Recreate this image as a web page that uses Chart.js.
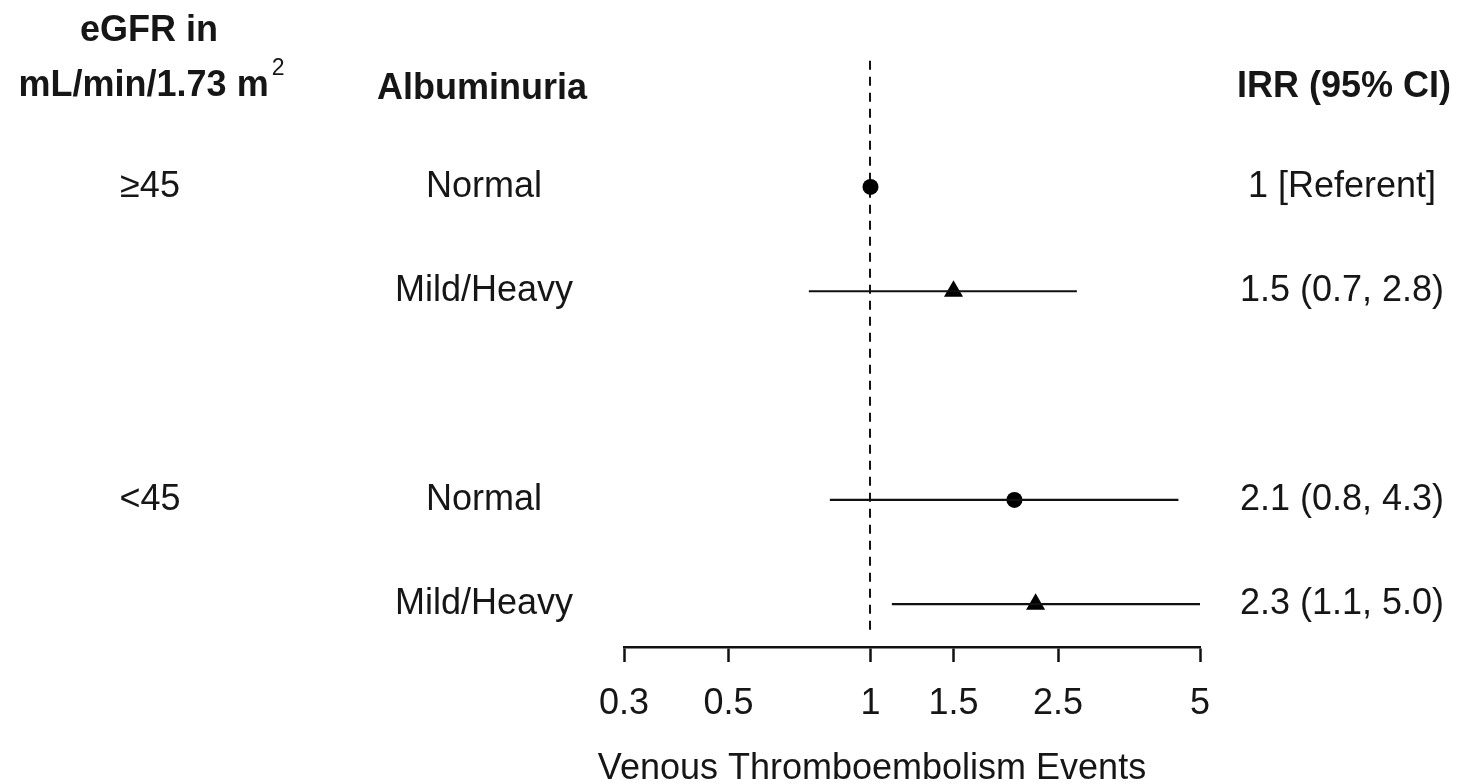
<!DOCTYPE html>
<html>
<head>
<meta charset="utf-8">
<script src="https://cdn.jsdelivr.net/npm/chart.js@4"></script>
<style>
  body { margin: 0; background: #fff; }
  #wrap { width: 1457px; height: 784px; }
</style>
</head>
<body>
<div id="wrap"><canvas id="forest" width="1457" height="784"></canvas></div>
<script>
// rows of the plot (row 3 is the empty gap between eGFR groups)
var rows = [1, 2, 4, 5];
var egfr = ['≥45', '', '<45', ''];
var albuminuria = ['Normal', 'Mild/Heavy', 'Normal', 'Mild/Heavy'];
var irr = [1, 1.5, 2.02, 2.24];
var lower = [null, 0.74, 0.82, 1.11];
var upper = [null, 2.74, 4.5, 5.0];
var irrText = ['1 [Referent]', '1.5 (0.7, 2.8)', '2.1 (0.8, 4.3)', '2.3 (1.1, 5.0)'];
var markers = ['circle', 'triangle', 'circle', 'triangle'];
var xTicks = [0.3, 0.5, 1, 1.5, 2.5, 5];
var xTitle = 'Venous Thromboembolism Events';

var FONT = '"Liberation Sans", Arial, sans-serif';
var INK = '#161616';

var datasets = [];
// CI whiskers
for (var i = 0; i < rows.length; i++) {
    if (lower[i] === null) continue;
    datasets.push({
        type: 'line',
        data: [{x: lower[i], y: rows[i]}, {x: upper[i], y: rows[i]}],
        borderColor: '#111',
        borderWidth: 2.2,
        pointRadius: 0,
        fill: false
    });
}
// point estimates
datasets.push({
    type: 'scatter',
    data: rows.map(function (r, i) { return {x: irr[i], y: r}; }),
    pointStyle: markers,
    pointRadius: markers.map(function (m) { return m === 'triangle' ? 11 : 8; }),
    backgroundColor: '#000',
    borderColor: '#000',
    borderWidth: 0
});

// dashed reference line at 1 + the text columns
var tablePlugin = {
    id: 'table',
    beforeDatasetsDraw: function (chart) {
        var c = chart.ctx, xs = chart.scales.x, ys = chart.scales.y;
        var x1 = Math.round(xs.getPixelForValue(1));
        c.save();
        c.strokeStyle = '#111';
        c.lineWidth = 2;
        c.setLineDash([9, 7]);
        c.beginPath();
        c.moveTo(x1, ys.getPixelForValue(-0.21));
        c.lineTo(x1, ys.getPixelForValue(5.25));
        c.stroke();
        c.restore();
    },
    afterDraw: function (chart) {
        var c = chart.ctx, ys = chart.scales.y;
        c.save();
        c.fillStyle = INK;
        c.textBaseline = 'middle';

        // headers
        c.font = 'bold 36px ' + FONT;
        c.textAlign = 'center';
        c.fillText('eGFR in', 149, ys.getPixelForValue(-0.49));
        var main = 'mL/min/1.73 m', w1 = c.measureText(main).width;
        c.font = '23px ' + FONT;
        var w2 = c.measureText('2').width;
        var start = 150 - (w1 + w2) / 2, hy = ys.getPixelForValue(0.03);
        c.textAlign = 'left';
        c.font = 'bold 36px ' + FONT;
        c.fillText(main, start, hy);
        c.font = '23px ' + FONT;
        c.fillText('2', start + w1 + 3, hy - 17);
        c.font = 'bold 36px ' + FONT;
        c.textAlign = 'center';
        c.fillText('Albuminuria', 482, ys.getPixelForValue(0.06));
        c.textAlign = 'right';
        c.fillText('IRR (95% CI)', 1451, ys.getPixelForValue(0.04));

        // body rows
        c.font = '36px ' + FONT;
        c.textAlign = 'center';
        for (var i = 0; i < rows.length; i++) {
            var y = ys.getPixelForValue(rows[i]);
            if (egfr[i]) c.fillText(egfr[i], 150, y);
            c.fillText(albuminuria[i], 484, y);
            c.fillText(irrText[i], 1342, y);
        }

        // axis title, centred under the reference line like the original
        c.fillText(xTitle, 872, 769);
        c.restore();
    }
};

new Chart(document.getElementById('forest').getContext('2d'), {
    data: {datasets: datasets},
    options: {
        responsive: false,
        animation: false,
        layout: {padding: {left: 624, right: 257, top: 7, bottom: 0}},
        plugins: {legend: {display: false}, tooltip: {enabled: false}},
        scales: {
            x: {
                type: 'logarithmic',
                position: 'bottom',
                min: 0.3,
                max: 5,
                afterBuildTicks: function (scale) {
                    scale.ticks = xTicks.map(function (v) { return {value: v}; });
                },
                afterFit: function (scale) { scale.height = 137; },
                border: {display: true, color: '#111', width: 2.5},
                grid: {drawOnChartArea: false, drawTicks: true, tickLength: 15, tickWidth: 2.5, tickColor: '#111'},
                ticks: {
                    autoSkip: false,
                    maxRotation: 0,
                    padding: 20,
                    color: INK,
                    font: {family: FONT, size: 36},
                    callback: function (v) { return String(v); }
                },
                title: {display: false}
            },
            y: {
                type: 'linear',
                display: false,
                reverse: true,
                min: -0.686,
                max: 5.41
            }
        }
    },
    plugins: [tablePlugin]
});
</script>
</body>
</html>
